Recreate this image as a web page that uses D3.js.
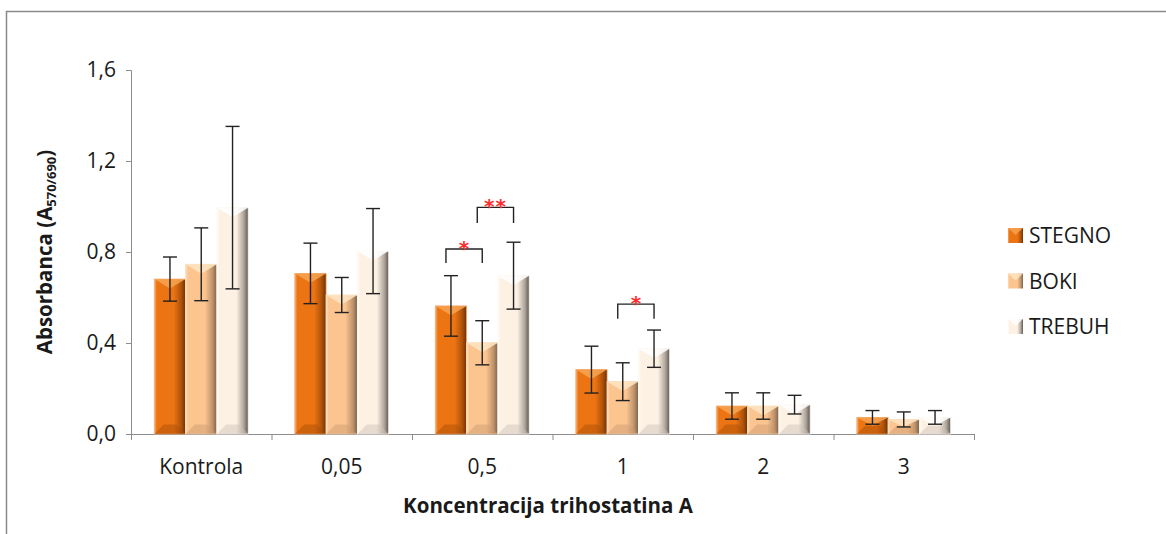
<!DOCTYPE html>
<html><head><meta charset="utf-8">
<script src="https://cdn.jsdelivr.net/npm/d3@7/dist/d3.min.js"></script>
<style>body{margin:0;background:#fff}svg{display:block}</style>
</head><body>
<svg id="c" width="1166" height="534"></svg>
<script>
const categories = ["Kontrola", "0,05", "0,5", "1", "2", "3"];
const seriesNames = ["STEGNO", "BOKI", "TREBUH"];
const stegno = [0.681, 0.706, 0.563, 0.283, 0.123, 0.073];
const boki = [0.746, 0.611, 0.401, 0.230, 0.123, 0.064];
const trebuh = [0.995, 0.804, 0.696, 0.375, 0.129, 0.073];
const stegnoErr = [0.097, 0.133, 0.133, 0.103, 0.058, 0.030];
const bokiErr = [0.160, 0.077, 0.097, 0.083, 0.058, 0.033];
const trebuhErr = [0.357, 0.187, 0.147, 0.082, 0.041, 0.030];
const yTicks = [0, 0.4, 0.8, 1.2, 1.6];
const yTickLabels = ["0,0", "0,4", "0,8", "1,2", "1,6"];
// significance: category, from series, to series, bracket top value, leg bottom value, label
const sigCat = ["0,5", "0,5", "1"];
const sigFrom = [0, 1, 1];
const sigTo = [1, 2, 2];
const sigTop = [0.813, 0.996, 0.571];
const sigLeg = [0.752, 0.927, 0.507];
const sigLabel = ["*", "**", "*"];

const values = [stegno, boki, trebuh];
const errs = [stegnoErr, bokiErr, trebuhErr];
const palette = [
  {light:"#f7b27a", main:"#ec7412", dark:"#6e3004", top:"#f7a552", bot:"#a84d08"},
  {light:"#fde3c8", main:"#fcc48f", dark:"#7f6248", top:"#fee6c4", bot:"#c99c72"},
  {light:"#ffffff", main:"#fdf1e4", dark:"#5f5852", top:"#ffffff", bot:"#cbc2b8"}
];

const svg = d3.select("#c");
const font = "'Open Sans', 'Liberation Sans', sans-serif";
const txt = "#1a1a1a";
const m = {l:131, r:974, t:70, b:434};
const x0 = d3.scaleBand().domain(categories).range([m.l, m.r]).paddingInner(0).paddingOuter(0);
const x1 = d3.scaleBand().domain([0,1,2]).range([0, x0.bandwidth()]).paddingOuter(0.745).paddingInner(0);
const y = d3.scaleLinear().domain([0, 1.6]).range([m.b, m.t]);

// outer border
svg.append("path").attr("d", "M6.5,534 V11.5 H1166").attr("fill","none").attr("stroke","#8a8a8a").attr("stroke-width",1.5);

const defs = svg.append("defs");
palette.forEach((p,i)=>{
  const g = defs.append("linearGradient").attr("id","g"+i).attr("x1","0").attr("x2","1").attr("y1","0").attr("y2","0");
  g.append("stop").attr("offset","0").attr("stop-color",p.light);
  g.append("stop").attr("offset","0.08").attr("stop-color",p.main);
  g.append("stop").attr("offset","0.62").attr("stop-color",p.main);
  g.append("stop").attr("offset","0.86").attr("stop-color",d3.interpolateRgb(p.main,p.dark)(0.5));
  g.append("stop").attr("offset","1").attr("stop-color",p.dark);
});

// axes
const yAxis = d3.axisLeft(y).tickValues(yTicks).tickFormat((d,i)=>yTickLabels[i]).tickSize(5).tickPadding(10);
const ya = svg.append("g").attr("transform",`translate(${m.l},0)`).call(yAxis);
ya.select(".domain").attr("stroke","#8c8c8c");
ya.selectAll(".tick line").attr("stroke","#8c8c8c");
ya.selectAll("text").attr("font-family",font).attr("font-size",21).attr("fill",txt);

const xAxis = d3.axisBottom(x0).tickSize(0).tickPadding(0);
const xa = svg.append("g").attr("transform",`translate(0,${m.b})`).call(xAxis);
xa.select(".domain").attr("stroke","#8c8c8c").attr("d",`M${m.l},0.5H${m.r}`);
xa.selectAll(".tick text").attr("font-family",font).attr("font-size",21).attr("fill",txt).attr("dy",null).attr("y",40);
// category boundary ticks
svg.append("g").selectAll("line").data(categories.map(c=>x0(c)).concat([m.r])).join("line")
  .attr("x1",d=>d+0.5).attr("x2",d=>d+0.5).attr("y1",m.b).attr("y2",m.b+6).attr("stroke","#8c8c8c");

// bars
const groups = svg.append("g").selectAll("g").data(categories).join("g").attr("transform",c=>`translate(${x0(c)},0)`);
seriesNames.forEach((s,si)=>{
  const p = palette[si];
  groups.each(function(c,ci){
    const g = d3.select(this);
    const v = values[si][ci];
    const bx = x1(si), bw = x1.bandwidth(), by = y(v), bh = y(0)-y(v);
    g.append("rect").attr("x",bx).attr("y",by).attr("width",bw).attr("height",bh).attr("fill",`url(#g${si})`)
      .attr("stroke",d3.interpolateRgb(p.main,"#fff")(0.4)).attr("stroke-width",0.8);
    const bev = Math.min(bw*0.3, bh/2);
    g.append("path").attr("d",`M${bx},${by}H${bx+bw}L${bx+bw/2},${by+bev}Z`).attr("fill",p.top).attr("opacity",0.85);
    g.append("path").attr("d",`M${bx},${by+bh}H${bx+bw}L${bx+bw-bev},${by+bh-bev}H${bx+bev}Z`).attr("fill",p.bot).attr("opacity",0.45);
    const e = errs[si][ci], cx = bx+bw/2;
    const ey1 = y(v+e), ey2 = y(Math.max(0,v-e));
    g.append("line").attr("x1",cx).attr("x2",cx).attr("y1",ey1).attr("y2",ey2).attr("stroke","#222").attr("stroke-width",1.4);
    [ey1,ey2].forEach(yy=>g.append("line").attr("x1",cx-7).attr("x2",cx+7).attr("y1",yy).attr("y2",yy).attr("stroke","#222").attr("stroke-width",1.4));
  });
});

// significance brackets
sigCat.forEach((c,i)=>{
  const xa_ = x0(c)+x1(sigFrom[i])+x1.bandwidth()/2-5;
  const xb_ = x0(c)+x1(sigTo[i])+x1.bandwidth()/2;
  const yt = y(sigTop[i]), yl = y(sigLeg[i]);
  svg.append("path").attr("d",`M${xa_},${yl}V${yt}H${xb_}V${yl}`).attr("fill","none").attr("stroke","#222").attr("stroke-width",1.4);
  svg.append("text").attr("x",(xa_+xb_)/2).attr("y",yt+6).attr("text-anchor","middle")
    .attr("font-family","'DejaVu Sans', sans-serif").attr("font-size",20).attr("font-weight","bold").attr("fill","#ff2d2d")
    .attr("letter-spacing",sigLabel[i].length>1?1:0).text(sigLabel[i]);
});

// axis titles
svg.append("text").attr("x",548).attr("y",513).attr("text-anchor","middle").attr("font-family",font)
  .attr("font-size",20.5).attr("font-weight","bold").attr("fill",txt).text("Koncentracija trihostatina A");
const yt = svg.append("text").attr("transform","translate(52,252) rotate(-90)").attr("text-anchor","middle")
  .attr("font-family",font).attr("font-size",20.5).attr("font-weight","bold").attr("fill",txt);
yt.append("tspan").text("Absorbanca (A");
yt.append("tspan").attr("font-size",13).attr("dy",4).text("570/690");
yt.append("tspan").attr("dy",-4).text(")");

// legend
const lg = svg.append("g");
seriesNames.forEach((s,i)=>{
  const ly = 235 + i*45.5;
  const p = palette[i];
  lg.append("rect").attr("x",1008).attr("y",ly-7).attr("width",15).attr("height",15).attr("fill",`url(#g${i})`);
  lg.append("path").attr("d",`M1008,${ly-7}H1023L1015.5,${ly}Z`).attr("fill",p.top).attr("opacity",0.8);
  lg.append("text").attr("x",1029).attr("y",ly+8).attr("font-family",font).attr("font-size",21).attr("fill",txt).text(s);
});
</script>
</body></html>
